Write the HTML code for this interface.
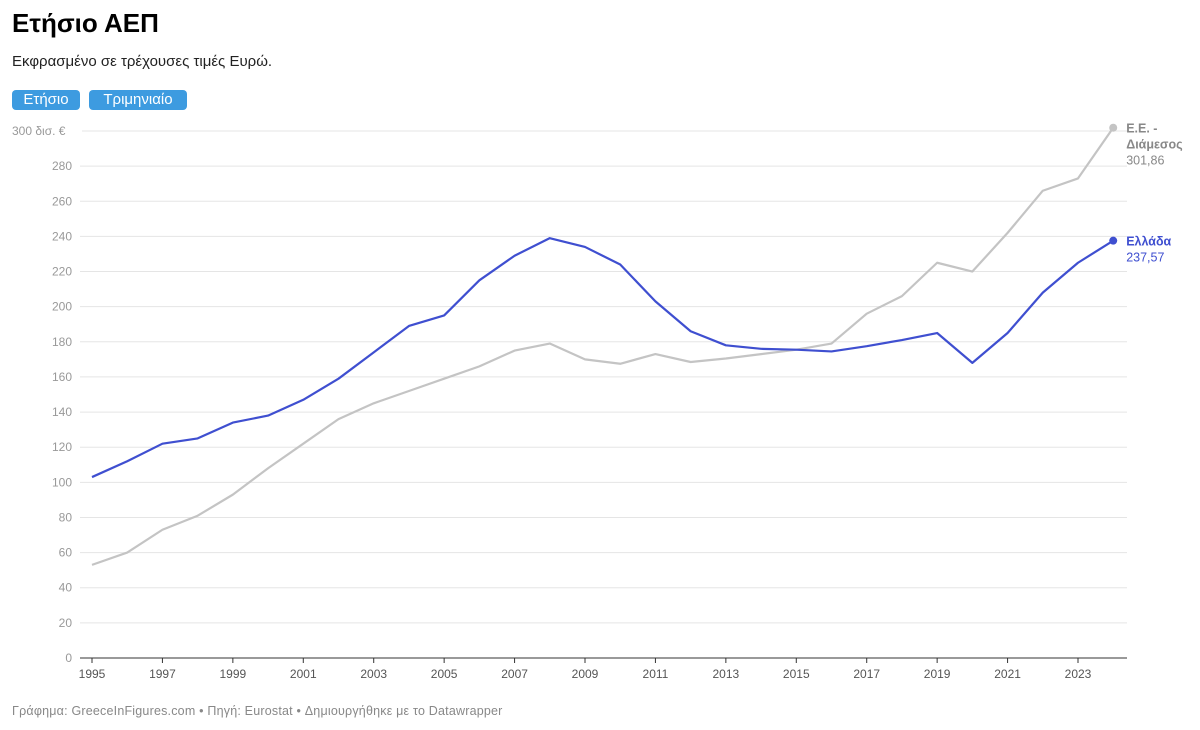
<!DOCTYPE html>
<html><head><meta charset="utf-8"><style>
body{margin:0;background:#fff;font-family:"Liberation Sans","DejaVu Sans",sans-serif;}
#wrap{position:relative;width:1200px;height:730px;overflow:hidden;}
h1{position:absolute;left:12px;top:8px;margin:0;font-size:26px;font-weight:bold;color:#000;}
.sub{position:absolute;left:12px;top:53px;font-size:15px;color:#222;}
.btn{position:absolute;top:90px;height:20px;line-height:20px;background:#3d9be0;color:#fff;border-radius:4px;font-size:15px;text-align:center;}
.foot{position:absolute;left:12px;top:704px;font-size:12.5px;color:#888;letter-spacing:0.2px;}
svg text{font-family:"Liberation Sans","DejaVu Sans",sans-serif;}
</style></head><body>
<div id="wrap">
<h1>Ετήσιο ΑΕΠ</h1>
<div class="sub">Εκφρασμένο σε τρέχουσες τιμές Ευρώ.</div>
<div class="btn" style="left:12px;width:68px">Ετήσιο</div>
<div class="btn" style="left:89px;width:98px">Τριμηνιαίο</div>
<svg id="chart" width="1200" height="730" style="position:absolute;left:0;top:0"></svg>
<div class="foot">Γράφημα: GreeceInFigures.com • Πηγή: Eurostat • Δημιουργήθηκε με το Datawrapper</div>
</div>
<script>
const years=[1995,1996,1997,1998,1999,2000,2001,2002,2003,2004,2005,2006,2007,2008,2009,2010,2011,2012,2013,2014,2015,2016,2017,2018,2019,2020,2021,2022,2023,2024];
const greece=[103,112,122,125,134,138,147,159,174,189,195,215,229,239,234,224,203,186,178,176,175.5,174.5,177.5,181,185,168,185,208,225,237.57];
const euMedian=[53,60,73,81,93,108,122,136,145,152,159,166,175,179,170,167.5,173,168.5,170.5,173,175.5,179,196,206,225,220,242,266,273,301.86];
const yTicks=[0,20,40,60,80,100,120,140,160,180,200,220,240,260,280,300];
const xTicks=[1995,1997,1999,2001,2003,2005,2007,2009,2011,2013,2015,2017,2019,2021,2023];
const svg=document.getElementById('chart');
const NS='http://www.w3.org/2000/svg';
const x=v=>92+(v-1995)*(1078-92)/28;
const y=v=>658-v*(658-131)/300;
function mk(t,a){const e=document.createElementNS(NS,t);for(const k in a)e.setAttribute(k,a[k]);svg.appendChild(e);return e;}
yTicks.forEach(t=>{
  const l=mk('line',{x1:t===300?82:80,x2:1127,y1:y(t),y2:y(t),stroke:t===0?'#333':'#e5e5e5','stroke-width':1});
  
  
  const tx=mk('text',{x:t===300?12:72,y:y(t)+4,'font-size':12,fill:'#999','text-anchor':t===300?'start':'end'});
  tx.textContent=t===300?'300 δισ. €':t;
  
  
});
xTicks.forEach(t=>{
  const l=mk('line',{x1:x(t),x2:x(t),y1:658,y2:663,stroke:'#333'});
  
  
  const tx=mk('text',{x:x(t),y:678,'font-size':12,fill:'#555','text-anchor':'middle'});
  tx.textContent=t;
  
  
});
function series(vals,color,name){
  const p=mk('polyline',{points:vals.map((v,i)=>x(years[i])+','+y(v)).join(' '),fill:'none',stroke:color,'stroke-width':2.2,'stroke-linejoin':'round'});
  
  
  const n=vals.length-1;
  const c=mk('circle',{cx:x(years[n]),cy:y(vals[n]),r:4,fill:color});
  
  
}
series(euMedian,'#c4c4c4','eu-median');
series(greece,'#3f4fd0','greece');
const lx=x(2024)+13;
function lab(txt,ly,color,bold,name){const t=mk('text',{x:lx,y:ly,'font-size':12.5,fill:color,'font-weight':bold?'bold':'normal'});t.textContent=txt;

}
const ge=y(euMedian[euMedian.length-1]);
lab('Ε.Ε. -',ge+5,'#888',true,'eu-label');
lab('Διάμεσος',ge+21,'#888',true,'eu-label');
lab(String(euMedian[euMedian.length-1]).replace('.',','),ge+37,'#888',false,'eu-value-label');
const gg=y(greece[greece.length-1]);
lab('Ελλάδα',gg+5,'#3f4fd0',true,'greece-label');
lab(String(greece[greece.length-1]).replace('.',','),gg+21,'#3f4fd0',false,'greece-value-label');
</script>
</body></html>
